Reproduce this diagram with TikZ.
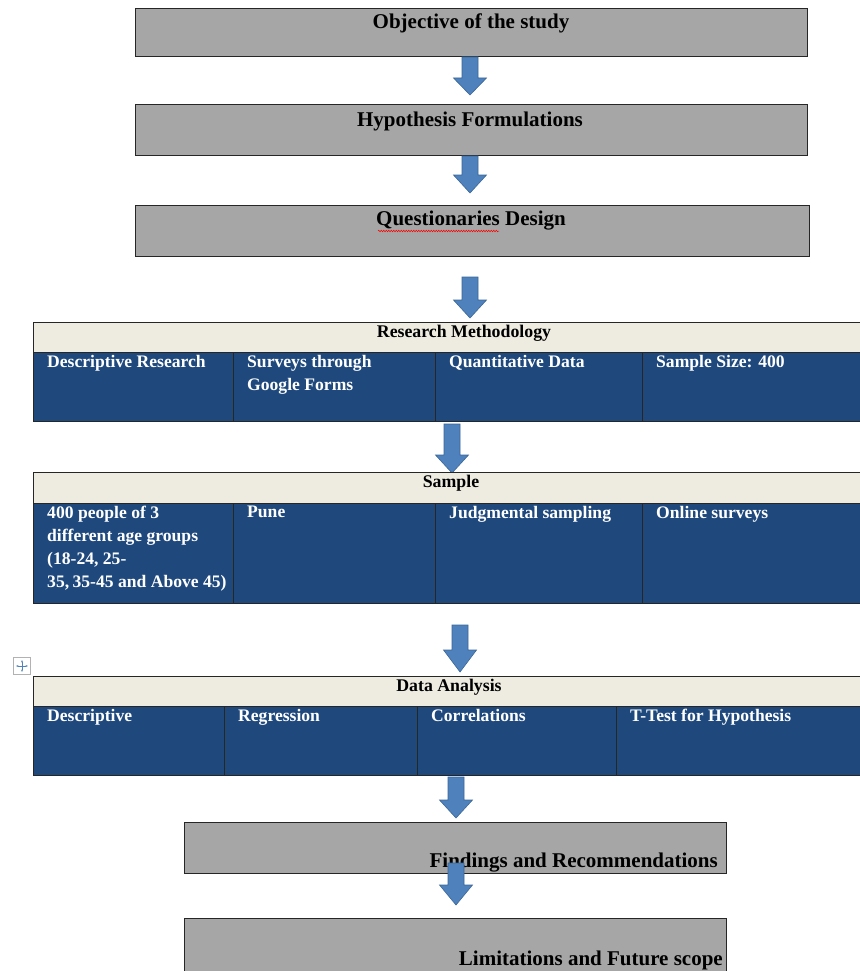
\documentclass[tikz,border=0pt]{standalone}
\usepackage{fontspec}
\setmainfont{Liberation Serif}
\usetikzlibrary{decorations.pathmorphing,arrows.meta}
\definecolor{boxgrey}{HTML}{A6A6A6}
\definecolor{hdrfill}{HTML}{EEECE1}
\definecolor{cellblue}{HTML}{1F497D}
\definecolor{arrfill}{HTML}{4F81BD}
\definecolor{arredge}{HTML}{3B6796}
\newcommand\blockarr[5]{% name, cx, top, headstart, tip
  \fill[arrfill,draw=arredge,line width=0.6pt] (#2-8,#3) -- (#2+8,#3) -- (#2+8,#4) -- (#2+16.5,#4) -- (#2,#5) -- (#2-16.5,#4) -- (#2-8,#4) -- cycle;
  \coordinate (#1) at (#2,#5);}
\tikzset{
  greybox/.style={draw=black!85,line width=1pt,fill=boxgrey,anchor=north west,inner sep=0pt},
  boxtext/.style={font=\bfseries\fontsize{21}{24}\selectfont,text=black,inner sep=0pt},
  hdr/.style={draw=black!85,line width=1pt,fill=hdrfill,anchor=north west,inner sep=0pt},
  cell/.style={draw=black!85,line width=1pt,fill=cellblue,anchor=north west,inner sep=0pt},
  hdrtext/.style={font=\bfseries\fontsize{17.8}{20}\selectfont,text=black,inner sep=0pt},
  celltext/.style={font=\bfseries\fontsize{17.6}{23}\selectfont,text=white,inner sep=0pt,anchor=north west,align=left},
}
\begin{document}
\begin{tikzpicture}[x=1pt,y=-1pt]
\useasboundingbox (0,0) rectangle (859,971);
\fill[white] (0,0) rectangle (859,971);
% top boxes
\node[greybox,minimum width=672pt,minimum height=48pt] (b1) at (135,8) {};
\node[boxtext] (t1) at (471,23) {Objective of the study};
\node[greybox,minimum width=672pt,minimum height=51pt] (b2) at (135,104) {};
\node[boxtext] (t2) at (470,121) {Hypothesis Formulations};
\node[greybox,minimum width=674pt,minimum height=51pt] (b3) at (135,205) {};
\node[boxtext] (t3) at (471,221) {Questionaries Design};
\draw[red,line width=0.5pt,decorate,decoration={snake,amplitude=0.8pt,segment length=2.5pt}] (378,231) -- (499,231);
% arrows
\blockarr{a1}{470}{57}{78}{95}
\blockarr{a2}{470}{156}{175}{193}
\blockarr{a3}{470}{277}{300}{318}
% table 1
\node[hdr,minimum width=828pt,minimum height=30pt] (h1) at (33,322) {};
\node[hdrtext] (h1t) at (464,333) {Research Methodology};
\node[cell,minimum width=200pt,minimum height=69pt] (c11) at (33,352) {};
\node[cell,minimum width=202pt,minimum height=69pt] (c12) at (233,352) {};
\node[cell,minimum width=207pt,minimum height=69pt] (c13) at (435,352) {};
\node[cell,minimum width=219pt,minimum height=69pt] (c14) at (642,352) {};
\node[celltext] at ([xshift=14pt,yshift=-3pt]c11.north west) {Descriptive Research};
\node[celltext] at ([xshift=14pt,yshift=-3pt]c12.north west) {Surveys through\\Google Forms};
\node[celltext] at ([xshift=14pt,yshift=-3pt]c13.north west) {Quantitative Data};
\node[celltext] at ([xshift=14pt,yshift=-3pt]c14.north west) {Sample Size: 400};
\blockarr{a4}{452}{424}{455}{473}
% table 2
\node[hdr,minimum width=828pt,minimum height=31pt] (h2) at (33,472) {};
\node[hdrtext] (h2t) at (451,483) {Sample};
\node[cell,minimum width=200pt,minimum height=100pt] (c21) at (33,503) {};
\node[cell,minimum width=202pt,minimum height=100pt] (c22) at (233,503) {};
\node[cell,minimum width=207pt,minimum height=100pt] (c23) at (435,503) {};
\node[cell,minimum width=219pt,minimum height=100pt] (c24) at (642,503) {};
\node[celltext] at ([xshift=14pt,yshift=-3pt]c21.north west) {400 people of 3\\different age groups\\(18-24, 25-\\35,\kern-1pt{} 35-45 and Above 45)};
\node[celltext] at ([xshift=14pt,yshift=-3pt]c22.north west) {Pune};
\node[celltext] at ([xshift=14pt,yshift=-3pt]c23.north west) {Judgmental sampling};
\node[celltext] at ([xshift=14pt,yshift=-3pt]c24.north west) {Online surveys};
\blockarr{a5}{460}{625}{650}{672}
% move icon
\node[draw=black!30,fill=white,minimum size=17pt,inner sep=0pt] (mv) at (22,666) {};
\draw[arrfill,line width=0.7pt,{Stealth[length=2.5pt]}-{Stealth[length=2.5pt]}] ([yshift=6pt]mv.center) -- ([yshift=-6pt]mv.center);
\draw[arrfill,line width=0.7pt,{Stealth[length=2.5pt]}-{Stealth[length=2.5pt]}] ([xshift=-6pt]mv.center) -- ([xshift=6pt]mv.center);
% table 3
\node[hdr,minimum width=828pt,minimum height=30pt] (h3) at (33,676) {};
\node[hdrtext] (h3t) at (449,687) {Data Analysis};
\node[cell,minimum width=191pt,minimum height=69pt] (c31) at (33,706) {};
\node[cell,minimum width=193pt,minimum height=69pt] (c32) at (224,706) {};
\node[cell,minimum width=199pt,minimum height=69pt] (c33) at (417,706) {};
\node[cell,minimum width=245pt,minimum height=69pt] (c34) at (616,706) {};
\node[celltext] at ([xshift=14pt,yshift=-3pt]c31.north west) {Descriptive};
\node[celltext] at ([xshift=14pt,yshift=-3pt]c32.north west) {Regression};
\node[celltext] at ([xshift=14pt,yshift=-3pt]c33.north west) {Correlations};
\node[celltext] at ([xshift=14pt,yshift=-3pt]c34.north west) {T-Test for Hypothesis};
\blockarr{a6}{456}{777}{800}{818}
% bottom boxes
\node[greybox,minimum width=542pt,minimum height=51pt] (b4) at (184,822) {};
\node[boxtext,anchor=base east] (t4) at (718,867) {Findings and Recommendations};
\blockarr{a7}{456}{863}{885}{905}
\node[greybox,minimum width=542pt,minimum height=60pt] (b5) at (184,918) {};
\node[boxtext,anchor=base east] (t5) at (723,965) {Limitations and Future scope};
\end{tikzpicture}
\end{document}
